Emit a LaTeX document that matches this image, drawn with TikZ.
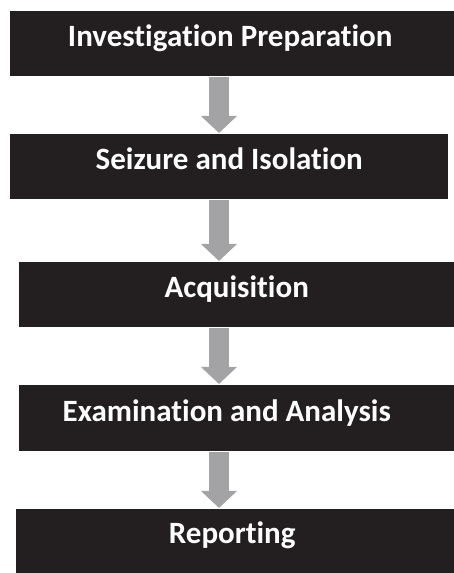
\documentclass[tikz,border=0pt]{standalone}
\usepackage{fontspec}
\setmainfont[Ligatures=NoCommon]{Carlito}
\usetikzlibrary{arrows.meta}
\definecolor{boxblack}{RGB}{35,31,32}
\definecolor{flowgray}{RGB}{163,163,166}
\begin{document}
\begin{tikzpicture}[
      x=1pt, y=1pt,
      stage/.style={rectangle, fill=boxblack, anchor=north west,
      text=white, font=\bfseries\fontsize{31}{36}\selectfont,
      text height=20pt, text depth=15pt,
      minimum height=65pt, inner sep=0pt},
      flow/.style={flowgray, line width=20pt, shorten <=1pt, shorten >=1pt,
      -{Triangle[width=35pt,length=17pt]}},
    ]
    \useasboundingbox (0,0) rectangle (454,573);
    \node[stage, minimum width=444pt] (prep) at (10,562) {Investigation Preparation\kern4pt};
    \node[stage, minimum width=438pt] (seize) at (10,439) {Seizure and Isolation};
    \node[stage, minimum width=435pt] (acq) at (19,311) {Acquisition};
    \node[stage, minimum width=435pt, minimum height=66pt, text depth=13pt] (exam) at (19,188)
      {Examination and Analysis\kern20pt};
    \node[stage, minimum width=438pt, minimum height=64pt] (rep) at (16,64) {Reporting\kern6pt};
    \coordinate (axis) at (219,0);
    \draw[flow] (prep.south -| axis) -- (seize.north -| axis);
    \draw[flow] (seize.south -| axis) -- (acq.north -| axis);
    \draw[flow] (acq.south -| axis) -- (exam.north -| axis);
    \draw[flow] (exam.south -| axis) -- (rep.north -| axis);
\end{tikzpicture}
\end{document}
